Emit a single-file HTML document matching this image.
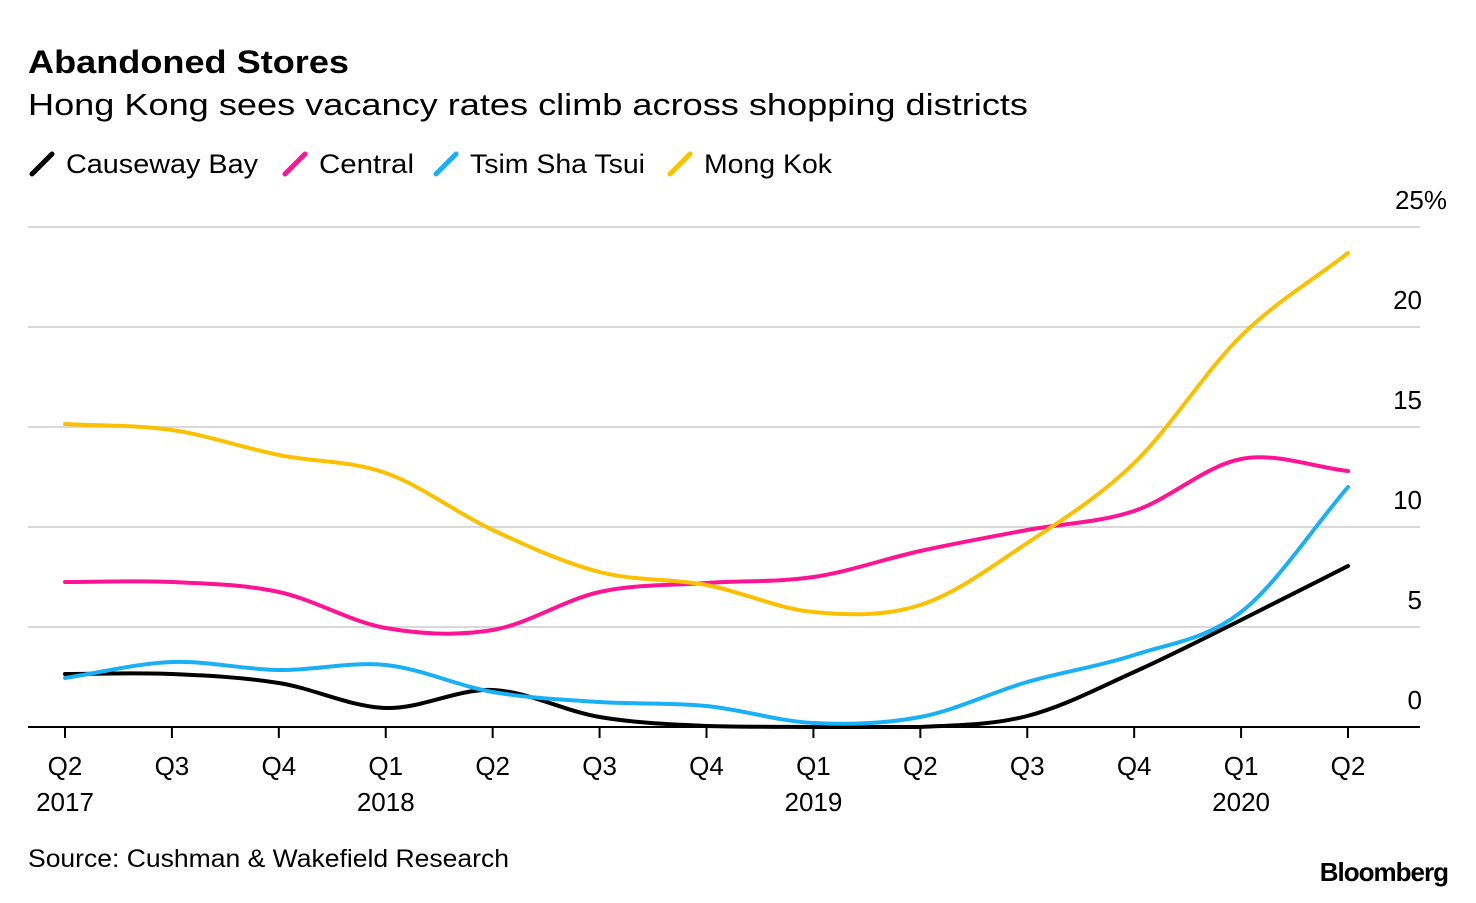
<!DOCTYPE html>
<html><head><meta charset="utf-8"><style>
body{margin:0;background:#fff;width:1476px;height:898px;overflow:hidden;font-family:"Liberation Sans",Arial,sans-serif;}
</style></head><body>
<svg width="1476" height="898" xmlns="http://www.w3.org/2000/svg">
<text x="28" y="73" font-size="32" font-weight="bold" fill="#000" textLength="321" lengthAdjust="spacingAndGlyphs">Abandoned Stores</text>
<text x="28" y="115" font-size="31" fill="#000" textLength="1000" lengthAdjust="spacingAndGlyphs">Hong Kong sees vacancy rates climb across shopping districts</text>
<g id="legend"></g>
<g id="grid"></g>
<g id="xaxis"></g>
<g id="series"></g>
<text x="28" y="867" font-size="25" fill="#000" textLength="481" lengthAdjust="spacingAndGlyphs">Source: Cushman &amp; Wakefield Research</text>
<text x="1448" y="881" font-size="26" font-weight="bold" fill="#000" text-anchor="end" letter-spacing="-1">Bloomberg</text>
</svg>
<script>
const quarters=["Q2","Q3","Q4","Q1","Q2","Q3","Q4","Q1","Q2","Q3","Q4","Q1","Q2"];
const years=["2017","","","2018","","","","2019","","","","2020",""];
const causeway=[2.65,2.65,2.2,0.95,1.85,0.5,0.05,0,0,0.55,2.75,5.35,8.05];
const central=[7.25,7.25,6.75,4.95,4.85,6.75,7.2,7.5,8.8,9.85,10.8,13.4,12.8];
const tst=[2.45,3.25,2.85,3.1,1.75,1.25,1.05,0.2,0.5,2.25,3.6,5.75,12.0];
const mongkok=[15.15,14.85,13.6,12.7,9.85,7.75,7.1,5.75,6.1,9.2,13.2,19.55,23.7];
const yTicks=[0,5,10,15,20,25];
const yTickLabels=["0","5","10","15","20","25%"];
const seriesNames=["Causeway Bay","Central","Tsim Sha Tsui","Mong Kok"];
const NS="http://www.w3.org/2000/svg";
const colors=["#000000","#ff1493","#1ab0f5","#fbc100"];
const x=i=>65+i*(1348-65)/12;
const y=v=>727-v*20;
function mk(t,a,p){const e=document.createElementNS(NS,t);for(const k in a)e.setAttribute(k,a[k]);p.appendChild(e);return e;}
const grid=document.getElementById('grid');
yTicks.forEach((v,i)=>{
 if(v>0){const l=mk('line',{x1:28,x2:1420,y1:y(v),y2:y(v),stroke:'#d9d9d9','stroke-width':2},grid);
 
 }
 const t=mk('text',{x:v===25?1447:1422,y:y(v)-18,'font-size':26,'text-anchor':'end',fill:'#000'},grid);
 t.textContent=yTickLabels[i];
 
 
});
const xa=document.getElementById('xaxis');
const base=mk('line',{x1:28,x2:1420,y1:727,y2:727,stroke:'#000','stroke-width':2},xa);


quarters.forEach((q,i)=>{
 mk('line',{x1:x(i),x2:x(i),y1:727,y2:738,stroke:'#000','stroke-width':2},xa);
 const t=mk('text',{x:x(i),y:775,'font-size':26,'text-anchor':'middle',fill:'#000'},xa);
 t.textContent=q;
 
 
 if(years[i]){const yt=mk('text',{x:x(i),y:811,'font-size':26,'text-anchor':'middle',fill:'#000'},xa);
 yt.textContent=years[i];
 
 }
});
function smoothPath(vals){
 const n=vals.length,px=vals.map((v,i)=>x(i)),py=vals.map(v=>y(v));
 const m=[];
 for(let i=0;i<n;i++){const a=Math.max(0,i-1),b=Math.min(n-1,i+1);m[i]=(py[b]-py[a])/(px[b]-px[a]);}
 let p='M'+px[0]+','+py[0];
 for(let i=0;i<n-1;i++){const h=(px[i+1]-px[i])/3;
  let c1=py[i]+m[i]*h,c2=py[i+1]-m[i+1]*h;
  c1=Math.min(c1,727);c2=Math.min(c2,727);
  p+=' C'+(px[i]+h)+','+c1+' '+(px[i+1]-h)+','+c2+' '+px[i+1]+','+py[i+1];}
 return p;
}
const sg=document.getElementById('series');
const allSeries=[causeway,central,tst,mongkok];
const ids=['causeway-bay-line','central-line','tsim-sha-tsui-line','mong-kok-line'];
allSeries.forEach((s,k)=>{
 const p=mk('path',{d:smoothPath(s),fill:'none',stroke:colors[k],'stroke-width':4,'stroke-linecap':'round'},sg);
 
 
});
const lg=document.getElementById('legend');
const lx=[30,283,434,668];
const lw=[192,95,175,128];
seriesNames.forEach((nm,k)=>{
 const g=mk('g',{},lg);
 
 
 mk('line',{x1:lx[k]+2,y1:174,x2:lx[k]+22,y2:154,stroke:colors[k],'stroke-width':5,'stroke-linecap':'round'},g);
 const t=mk('text',{x:lx[k]+36,y:173,'font-size':27,fill:'#000',textLength:lw[k],lengthAdjust:'spacingAndGlyphs'},g);
 t.textContent=nm;
});
</script>
</body></html>
